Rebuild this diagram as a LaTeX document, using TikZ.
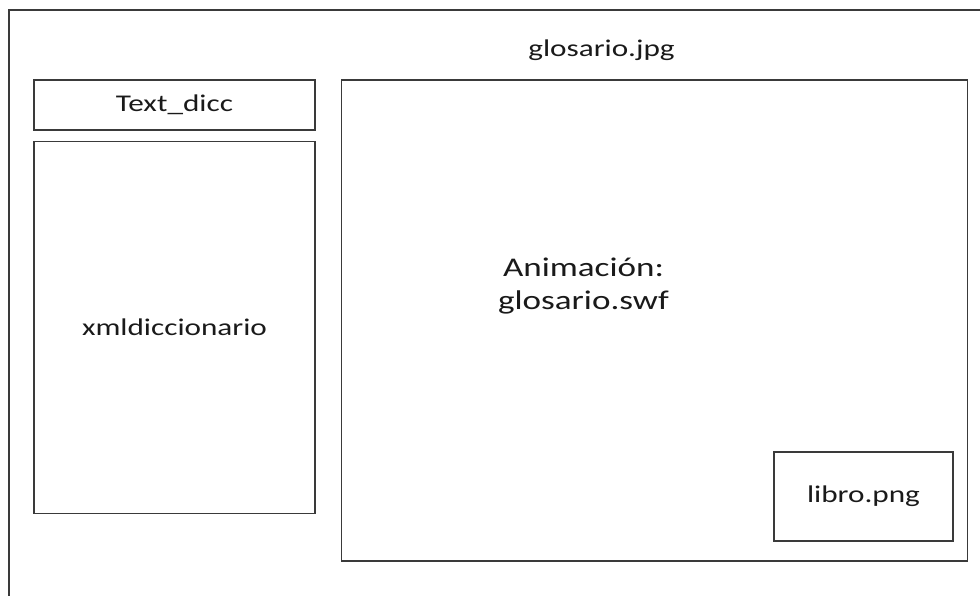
\documentclass[tikz,border=0pt]{standalone}
\usepackage{fontspec}
\setmainfont{Carlito}[FakeStretch=1.3]
\usepackage{xcolor}
\usetikzlibrary{positioning}
\definecolor{FrameGray}{HTML}{3A3A3A}
\definecolor{TextGray}{HTML}{1A1A1A}
\tikzset{
  panel/.style={draw=FrameGray, line width=1.3pt, align=center, inner sep=0pt, text=TextGray, font=\fontsize{24}{29}\selectfont},
  bigtext/.style={align=center, text=TextGray, font=\fontsize{27}{33}\selectfont},
  smalltext/.style={text=TextGray, font=\fontsize{24}{29}\selectfont},
  frame/.style={draw=FrameGray, line width=1.3pt}
}
\begin{document}
\begin{tikzpicture}[x=1pt, y=1pt, node distance=10pt]
    \useasboundingbox (0,0) rectangle (980,596);
    \clip (0,0) rectangle (980,596);
    \fill[white] (0,0) rectangle (980,596);

    % outer page frame, cut off at right and bottom
    \coordinate (pagetop) at (990,586);
    \coordinate (pagecorner) at (9,586);
    \coordinate (pagebottom) at (9,-10);
    \draw[frame] (pagebottom) -- (pagecorner) -- (pagetop);
    \node[smalltext, anchor=base] (fondo) at (601.5,539.5) {glosario.jpg};

    % left column
    \node[panel, minimum width=281pt, minimum height=50pt] (textdicc) at (174.5,491) {Text\_dicc};
    \node[panel, minimum width=281pt, minimum height=372pt, below=of textdicc] (xmldicc) {xmldiccionario};

    % animation area
    \node[panel, minimum width=626pt, minimum height=481pt, right=25pt of textdicc.north east, anchor=north west] (anim) {};
    \node[bigtext] (animtext) at (583.5,310) {Animación:\\glosario.swf};
    \node[panel, minimum width=179pt, minimum height=89pt] (libro) at (863.5,99.5) {libro.png};
  \end{tikzpicture}
\end{document}
